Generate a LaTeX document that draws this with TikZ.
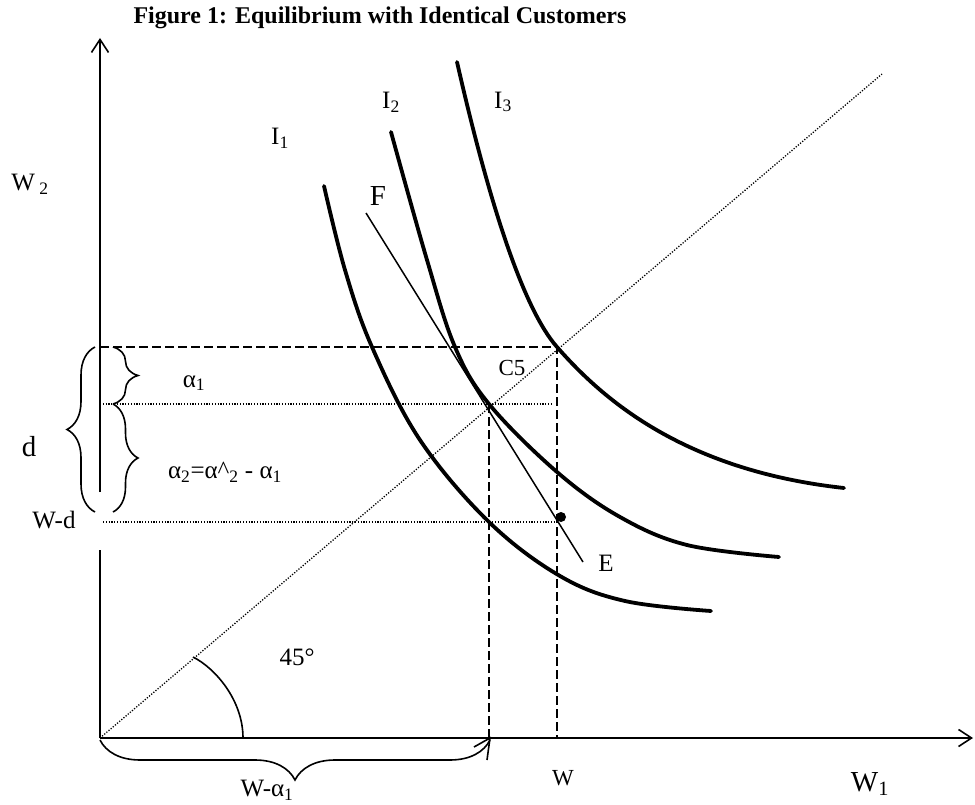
\documentclass[tikz,border=0pt]{standalone}
\usepackage{fontspec}
\setmainfont{Liberation Serif}
\usetikzlibrary{decorations.pathreplacing,arrows.meta}
\begin{document}
\begin{tikzpicture}[x=1pt,y=-1pt,
  lbl/.style={font=\fontsize{25}{29}\selectfont, inner sep=0pt},
  smlbl/.style={font=\fontsize{23}{27}\selectfont, inner sep=0pt},
  biglbl/.style={font=\fontsize{29}{33}\selectfont, inner sep=0pt},
  axisline/.style={line width=1.8pt},
  icurve/.style={line width=3.8pt, line cap=round},
  dashline/.style={line width=2pt, dash pattern=on 9pt off 4pt},
  dotline/.style={line width=1.3pt, dash pattern=on 1.2pt off 1.6pt},
  bracestyle/.style={line width=1.6pt, decorate},
  tip/.style={-{Straight Barb[length=13pt,width=17pt,line width=1.6pt]}},
]
\useasboundingbox (0,0) rectangle (975,805);

% axes
\coordinate (O) at (100,738);
\coordinate (Ytop) at (100,38);
\coordinate (Ygap1) at (100,492);
\coordinate (Ygap2) at (100,550);
\coordinate (Xend) at (973,738);
\coordinate (Dend) at (882,74);
\draw[axisline] (O) -- (Ygap2);
\draw[axisline, tip] (Ygap1) -- (Ytop);
\draw[axisline, tip] (O) -- (Xend);

% 45 degree line
\draw[dotline] (O) -- (Dend);

% dashed and dotted guides
\coordinate (A) at (100,347);
\coordinate (B) at (557,347);
\coordinate (C) at (557,738);
\coordinate (P) at (489,404);
\coordinate (Q) at (489,738);
\coordinate (L1) at (100,404);
\coordinate (R1) at (553,404);
\coordinate (L2) at (103,522);
\coordinate (R2) at (557,522);
\draw[dashline] (A) -- (B) -- (C);
\draw[dashline] (P) -- (Q);
\draw[dotline] (L1) -- (R1);
\draw[dotline] (L2) -- (R2);

% indifference curves
\draw[icurve] plot[smooth, tension=0.6] coordinates {(324,186) (345,270) (372,347) (420,440) (489,522) (560,576) (625,601) (711,611)};
\draw[icurve] plot[smooth, tension=0.6] coordinates {(391,132) (427,260) (455,347) (489,404) (557,472) (620,517) (687,545) (779,557)};
\coordinate (I3a) at (457,62);
\coordinate (I3b) at (844,488);
\draw[icurve] (I3a) .. controls (485,185) and (520,305) .. (B)
  .. controls (600,396) and (680,470) .. (I3b);

% budget line F--E
\coordinate (Fend) at (366,213);
\coordinate (Eend) at (583,562);
\draw[line width=1.5pt] (Fend) -- (Eend);
\node[circle, fill, inner sep=0pt, minimum size=10pt] (Edot) at (561,517) {};

% braces
\draw[bracestyle, decoration={brace, amplitude=25pt}] (113,347) -- (113,404);
\draw[bracestyle, decoration={brace, amplitude=25pt}] (113,404) -- (113,512);
\draw[bracestyle, decoration={brace, amplitude=28pt}] (95,512) -- (95,347);
\draw[bracestyle, decoration={brace, mirror, amplitude=40pt}] (100,740) -- (490,740);
\coordinate (BA) at (490,738);
\coordinate (BA1) at (474,747);
\coordinate (BA2) at (487,760);
\draw[line width=1.6pt] (BA1) -- (BA) -- (BA2);

% 45 degree arc
\coordinate (Arc1) at (193,657);
\coordinate (Arc2) at (243,738);
\draw[line width=1.6pt] (Arc1) .. controls (215,668) and (243,700) .. (Arc2);

% labels
\node[font=\fontsize{24}{28}\selectfont\bfseries, inner sep=0pt] (title) at (380,18) {Figure 1: Equilibrium with Identical Customers};
\node[lbl] (I1) at (280,138) {I\textsubscript{1}};
\node[lbl] (I2) at (391,102) {I\textsubscript{2}};
\node[lbl] (I3) at (503,102) {I\textsubscript{3}};
\node[biglbl] (F) at (378,196) {F};
\node[lbl] (E) at (606,563) {E};
\node[smlbl] (C5) at (512,368) {C5};
\node[lbl] (W2) at (30,184) {W\,\textsubscript{2}};
\node[lbl] (a1) at (194,383) {α\textsubscript{1}};
\node[biglbl] (d) at (29,447) {d};
\node[lbl] (a2) at (225,472) {α\textsubscript{2}=α\^{}\textsubscript{2} - α\textsubscript{1}};
\node[lbl] (Wd) at (54,520) {W-d};
\node[lbl] (deg) at (297,657) {45°};
\node[smlbl] (W) at (563,778) {W};
\node[biglbl] (W1) at (870,784) {W\textsubscript{1}};
\node[lbl] (Wa) at (267,790) {W-α\textsubscript{1}};
\end{tikzpicture}
\end{document}
